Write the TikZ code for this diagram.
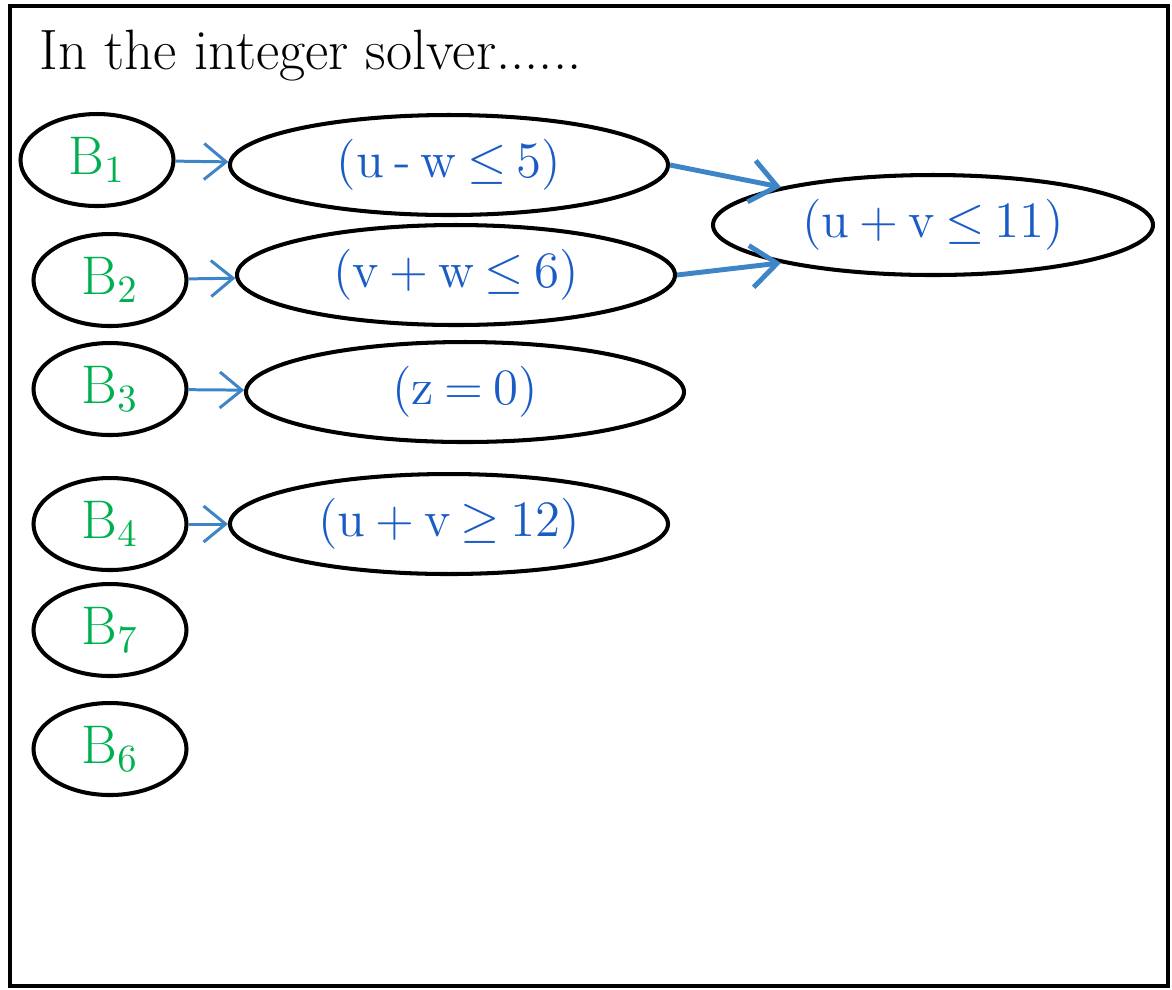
\documentclass[tikz,border=0pt]{standalone}
\usepackage{xcolor}
\usepackage{tikz}
\usetikzlibrary{positioning,arrows.meta,shapes.geometric}

\definecolor{litblue}{HTML}{1A5CC6}
\definecolor{litgreen}{HTML}{00B050}
\definecolor{arrblue}{HTML}{3D85C6}

\newcommand\litfont{\fontsize{14.5}{16}\selectfont\spaceskip=0.2em\relax}

\tikzset{
  bvar/.style={draw,ellipse,line width=1.15pt,inner sep=0pt,
    minimum width=1.53cm,minimum height=0.92cm,text=litgreen,
    font=\fontsize{15.5}{17}\selectfont},
  lit/.style={draw,ellipse,line width=1.15pt,inner sep=0pt,
    minimum width=4.38cm,minimum height=1.0cm,text=litblue,
    font=\litfont},
  imp/.style={-{Straight Barb[length=2.2mm,width=3.6mm]},arrblue,line width=0.85pt},
  lrn/.style={-{Straight Barb[length=2.6mm,width=4.2mm]},arrblue,line width=1.4pt}
}

\begin{document}
\begin{tikzpicture}
  \useasboundingbox (0,0) rectangle (11.72,-9.89);
  \draw[line width=1.2pt] (0.10,-0.06) rectangle (11.68,-9.86);
  \node[anchor=west,inner sep=0pt,font=\fontsize{16.2}{18}\selectfont] (title) at (0.39,-0.56)
    {In the integer solver......};

  % boolean variables
  \node[bvar] (b1) at (0.97,-1.60) {B$_1$};
  \node[bvar] (b2) at (1.10,-2.80) {B$_2$};
  \node[bvar] (b3) at (1.10,-3.89) {B$_3$};
  \node[bvar] (b4) at (1.10,-5.24) {B$_4$};
  \node[bvar] (b7) at (1.10,-6.30) {B$_7$};
  \node[bvar] (b6) at (1.10,-7.49) {B$_6$};

  % literals
  \node[lit] (l1) at (4.49,-1.65) {(u - w ${\leq}$ 5)};
  \node[lit] (l2) at (4.56,-2.75) {(v + w ${\leq}$ 6)};
  \node[lit] (l3) at (4.65,-3.92) {(z = 0)};
  \node[lit] (l4) at (4.49,-5.24) {(u + v ${\geq}$ 12)};
  \node[lit,minimum width=4.40cm] (l5) at (9.33,-2.25) {(u + v ${\leq}$ 11)};

  \draw[imp] (b1) -- (l1);
  \draw[imp] (b2) -- (l2);
  \draw[imp] (b3) -- (l3);
  \draw[imp] (b4) -- (l4);
  \draw[lrn] (l1.east) -- (l5.166);
  \draw[lrn] (l2.east) -- (l5.194);
\end{tikzpicture}
\end{document}
